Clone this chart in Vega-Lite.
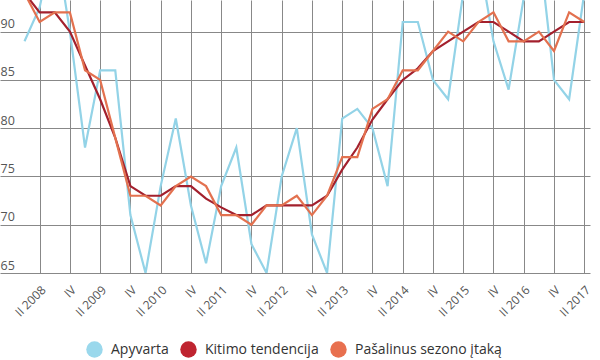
{
  "$schema": "https://vega.github.io/schema/vega-lite/v6.json",
  "width": 590,
  "height": 273,
  "padding": 0,
  "autosize": {"type": "pad"},
  "background": "white",
  "config": {"view": {"stroke": null}, "font": "Open Sans"},
  "data": {"values": [
    {"q": "2008-I", "Apyvarta": 89, "Kitimo tendencija": 94, "Pašalinus sezono įtaką": 94},
    {"q": "2008-II", "Apyvarta": 92.5, "Kitimo tendencija": 92, "Pašalinus sezono įtaką": 91},
    {"q": "2008-III", "Apyvarta": 100, "Kitimo tendencija": 92, "Pašalinus sezono įtaką": 92},
    {"q": "2008-IV", "Apyvarta": 90, "Kitimo tendencija": 90, "Pašalinus sezono įtaką": 92},
    {"q": "2009-I", "Apyvarta": 78, "Kitimo tendencija": 86.5, "Pašalinus sezono įtaką": 86},
    {"q": "2009-II", "Apyvarta": 86, "Kitimo tendencija": 83, "Pašalinus sezono įtaką": 85},
    {"q": "2009-III", "Apyvarta": 86, "Kitimo tendencija": 79, "Pašalinus sezono įtaką": 79},
    {"q": "2009-IV", "Apyvarta": 71, "Kitimo tendencija": 74, "Pašalinus sezono įtaką": 73},
    {"q": "2010-I", "Apyvarta": 65, "Kitimo tendencija": 73, "Pašalinus sezono įtaką": 73},
    {"q": "2010-II", "Apyvarta": 74, "Kitimo tendencija": 73, "Pašalinus sezono įtaką": 72},
    {"q": "2010-III", "Apyvarta": 81, "Kitimo tendencija": 74, "Pašalinus sezono įtaką": 74},
    {"q": "2010-IV", "Apyvarta": 72, "Kitimo tendencija": 74, "Pašalinus sezono įtaką": 75},
    {"q": "2011-I", "Apyvarta": 66, "Kitimo tendencija": 72.7, "Pašalinus sezono įtaką": 74},
    {"q": "2011-II", "Apyvarta": 74, "Kitimo tendencija": 71.8, "Pašalinus sezono įtaką": 71},
    {"q": "2011-III", "Apyvarta": 78, "Kitimo tendencija": 71, "Pašalinus sezono įtaką": 71},
    {"q": "2011-IV", "Apyvarta": 68, "Kitimo tendencija": 71, "Pašalinus sezono įtaką": 70},
    {"q": "2012-I", "Apyvarta": 65, "Kitimo tendencija": 72, "Pašalinus sezono įtaką": 72},
    {"q": "2012-II", "Apyvarta": 75, "Kitimo tendencija": 72, "Pašalinus sezono įtaką": 72},
    {"q": "2012-III", "Apyvarta": 80, "Kitimo tendencija": 72, "Pašalinus sezono įtaką": 73},
    {"q": "2012-IV", "Apyvarta": 69, "Kitimo tendencija": 72, "Pašalinus sezono įtaką": 71},
    {"q": "2013-I", "Apyvarta": 65, "Kitimo tendencija": 73, "Pašalinus sezono įtaką": 73},
    {"q": "2013-II", "Apyvarta": 81, "Kitimo tendencija": 75.7, "Pašalinus sezono įtaką": 77},
    {"q": "2013-III", "Apyvarta": 82, "Kitimo tendencija": 78, "Pašalinus sezono įtaką": 77},
    {"q": "2013-IV", "Apyvarta": 80, "Kitimo tendencija": 80.9, "Pašalinus sezono įtaką": 82},
    {"q": "2014-I", "Apyvarta": 74, "Kitimo tendencija": 83, "Pašalinus sezono įtaką": 83},
    {"q": "2014-II", "Apyvarta": 91, "Kitimo tendencija": 85, "Pašalinus sezono įtaką": 86},
    {"q": "2014-III", "Apyvarta": 91, "Kitimo tendencija": 86.2, "Pašalinus sezono įtaką": 86},
    {"q": "2014-IV", "Apyvarta": 85, "Kitimo tendencija": 88, "Pašalinus sezono įtaką": 88},
    {"q": "2015-I", "Apyvarta": 83, "Kitimo tendencija": 89, "Pašalinus sezono įtaką": 90},
    {"q": "2015-II", "Apyvarta": 94, "Kitimo tendencija": 90, "Pašalinus sezono įtaką": 89},
    {"q": "2015-III", "Apyvarta": 98, "Kitimo tendencija": 91, "Pašalinus sezono įtaką": 91},
    {"q": "2015-IV", "Apyvarta": 89, "Kitimo tendencija": 91, "Pašalinus sezono įtaką": 92},
    {"q": "2016-I", "Apyvarta": 84, "Kitimo tendencija": 90, "Pašalinus sezono įtaką": 89},
    {"q": "2016-II", "Apyvarta": 93.5, "Kitimo tendencija": 89, "Pašalinus sezono įtaką": 89},
    {"q": "2016-III", "Apyvarta": 99, "Kitimo tendencija": 89, "Pašalinus sezono įtaką": 90},
    {"q": "2016-IV", "Apyvarta": 85, "Kitimo tendencija": 90, "Pašalinus sezono įtaką": 88},
    {"q": "2017-I", "Apyvarta": 83, "Kitimo tendencija": 91, "Pašalinus sezono įtaką": 92},
    {"q": "2017-II", "Apyvarta": 94, "Kitimo tendencija": 91, "Pašalinus sezono įtaką": 91}
  ]},
  "transform": [
    {"fold": ["Apyvarta", "Kitimo tendencija", "Pašalinus sezono įtaką"], "as": ["serija", "reiksme"]}
  ],
  "mark": {"type": "line", "strokeWidth": 2.2, "clip": true},
  "encoding": {
    "x": {
      "field": "q",
      "type": "ordinal",
      "sort": null,
      "scale": {"type": "point", "padding": 1.42, "align": 0.81},
      "axis": {
        "title": null,
        "values": ["2008-II", "2008-IV", "2009-II", "2009-IV", "2010-II", "2010-IV", "2011-II", "2011-IV", "2012-II", "2012-IV", "2013-II", "2013-IV", "2014-II", "2014-IV", "2015-II", "2015-IV", "2016-II", "2016-IV", "2017-II"],
        "labelExpr": "split(datum.value, '-')[1] == 'II' ? 'II ' + split(datum.value, '-')[0] : 'IV'",
        "labelAngle": -45,
        "labelAlign": "right",
        "labelBaseline": "top",
        "labelPadding": 11,
        "labelFontSize": 12,
        "labelColor": "#555555",
        "labelOverlap": false,
        "ticks": false,
        "domain": false,
        "grid": true,
        "gridColor": "#888888",
        "gridWidth": 1,
        "encode": {"labels": {"update": {"dx": {"value": 8}}}}
      }
    },
    "y": {
      "field": "reiksme",
      "type": "quantitative",
      "scale": {"domain": [65, 93.28], "nice": false, "zero": false},
      "axis": {
        "title": null,
        "values": [65, 70, 75, 80, 85, 90],
        "labelAlign": "left",
        "labelBaseline": "alphabetic",
        "labelPadding": 0,
        "labelOffset": -4,
        "labelFontSize": 12.5,
        "labelColor": "#555555",
        "ticks": false,
        "domain": false,
        "grid": true,
        "gridColor": "#888888",
        "gridWidth": 1
      }
    },
    "color": {
      "field": "serija",
      "type": "nominal",
      "scale": {
        "domain": ["Apyvarta", "Kitimo tendencija", "Pašalinus sezono įtaką"],
        "range": ["#93d3e7", "#a3202d", "#e3714f"]
      },
      "legend": {
        "title": null,
        "orient": "none",
        "legendX": 86,
        "legendY": 341,
        "direction": "horizontal",
        "gridAlign": "none",
        "symbolType": "circle",
        "symbolSize": 270,
        "symbolStrokeWidth": 0,
        "labelFontSize": 14,
        "labelColor": "#333333",
        "labelOffset": 8,
        "columnPadding": 11,
        "encode": {
          "symbols": {
            "update": {
              "fill": {"signal": "datum.value == 'Apyvarta' ? '#9ad8ec' : datum.value == 'Kitimo tendencija' ? '#bf2430' : '#e8704f'"},
              "fillOpacity": {"value": 1},
              "strokeWidth": {"value": 0}
            }
          }
        }
      }
    }
  }
}
